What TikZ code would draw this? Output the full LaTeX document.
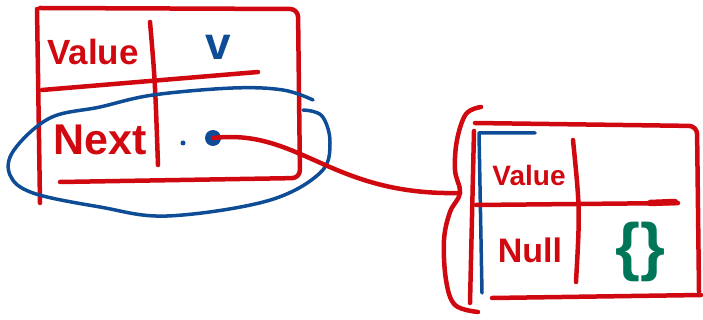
\documentclass[tikz,border=0pt]{standalone}
\usepackage{fontspec}
\setmainfont{Liberation Sans}
\definecolor{pred}{RGB}{208,8,16}
\definecolor{pblue}{RGB}{14,76,150}
\definecolor{pgreen}{RGB}{0,118,88}
\tikzset{
  pen/.style={draw=pred, line width=4.5pt, line cap=round, line join=round},
  bpen/.style={draw=pblue, line width=3.5pt, line cap=round, line join=round},
  lbl/.style={inner sep=0pt, text=pred},
}
\begin{document}
\begin{tikzpicture}[x=1pt,y=-1pt]
\useasboundingbox (0,0) rectangle (703,320);
% ---- left node ----
\draw[pen] (37,9) -- (40,203);
\draw[pen, rounded corners=8pt] (40,8) -- (298,9) -- (300,178) -- (60,182);
\draw[pen] (150,22) .. controls (155,80) .. (158,165);
\draw[pen] (42,90) -- (258,72);
\node[lbl, font=\bfseries\fontsize{35}{35}\selectfont] (val1) at (93,52) {Value};
\node[lbl, text=pblue, font=\bfseries\fontsize{46}{46}\selectfont] (v1) at (218,47) {v};
\node[lbl, font=\bfseries\fontsize{43}{43}\selectfont] (next1) at (100,140) {Next};
\node[circle, fill=pblue, inner sep=0pt, minimum size=5pt] (dot) at (183,143) {};
\node[circle, fill=pblue, inner sep=0pt, minimum size=16pt] (ptr) at (213,138) {};
% blue ellipse around Next
\draw[bpen] plot[smooth, tension=0.6] coordinates {(313,100) (283,90) (233,88) (153,95) (100,107) (50,118) (14,150) (10,175) (33,193) (100,207) (167,216) (267,201) (320,173) (330,143) (322,116) (303,110)};
% ---- right node ----
\coordinate (tip) at (460,193);
\draw[pen] plot[smooth, tension=0.6] coordinates {(481,107) (466,114) (457,140) (455,170) (460,193) (450,212) (444,240) (446,280) (455,305) (478,312)};
\draw[pen] (ptr.center) .. controls (300,128) and (330,196) .. (tip);
\draw[pen, rounded corners=8pt] (475,123) -- (697,126) -- (699,292);
\draw[pen] (492,298) -- (701,295);
\draw[pen] (474,131) -- (470,303);
\draw[bpen] (535,133) -- (479,133) -- (482,293);
\draw[pen] (573,140) .. controls (580,210) .. (576,282);
\draw[pen] (476,205) -- (678,203);
\draw[pred, line width=6.5pt, line cap=round] (650,203) -- (675,202);
\node[lbl, font=\bfseries\fontsize{28}{28}\selectfont] (val2) at (529,175) {Value};
\node[lbl, font=\bfseries\fontsize{34}{34}\selectfont] (null2) at (530,250) {Null};
\node[lbl, text=pgreen, font=\bfseries\fontsize{64}{64}\selectfont] (empty2) at (640,252) {\{\}};
\end{tikzpicture}
\end{document}
